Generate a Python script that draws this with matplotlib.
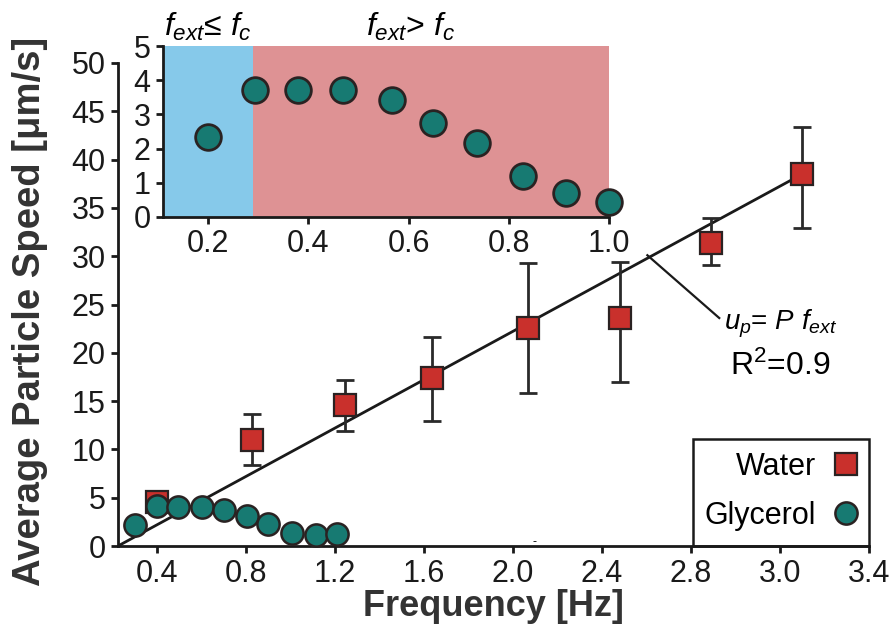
import matplotlib
matplotlib.use('Agg')
import matplotlib.pyplot as plt
from matplotlib.patches import Rectangle

plt.rcParams['font.family'] = ['Liberation Sans', 'DejaVu Sans']
plt.rcParams['mathtext.fontset'] = 'custom'
plt.rcParams['mathtext.rm'] = 'Liberation Sans'
plt.rcParams['mathtext.it'] = 'Liberation Sans:italic'
plt.rcParams['mathtext.bf'] = 'Liberation Sans:bold'

# ---------------- data ----------------
water_x = [0.40, 0.826, 1.244, 1.635, 2.066, 2.483, 2.89, 3.30]
water_y = [4.6, 11.0, 14.6, 17.4, 22.6, 23.6, 31.4, 38.5]
water_err_lo = [0.0, 2.6, 2.7, 4.5, 6.8, 6.6, 2.3, 5.6]
water_err_hi = [0.0, 2.7, 2.6, 4.2, 6.7, 5.8, 2.6, 4.9]

gly_x = [0.301, 0.40, 0.494, 0.602, 0.70, 0.804, 0.898, 1.006, 1.114, 1.208]
gly_y = [2.17, 4.14, 4.04, 4.04, 3.73, 3.10, 2.28, 1.35, 1.14, 1.24]

fit_x = [0.225, 3.30]
fit_y = [0.0, 38.5]
leader_x = [2.604, 2.927]
leader_y = [30.1, 23.6]

inset_x = [0.20, 0.293, 0.38, 0.47, 0.567, 0.648, 0.736, 0.828, 0.914, 1.0]
inset_y = [2.35, 3.72, 3.72, 3.72, 3.43, 2.74, 2.15, 1.21, 0.70, 0.45]
inset_fc = 0.29

main_xticks = [0.4, 0.8, 1.2, 1.6, 2.0, 2.4, 2.8, 3.2, 3.6]
main_xticklabels = ['0.4', '0.8', '1.2', '1.6', '2.0', '2.4', '2.8', '3.0', '3.4']
main_yticks = [0, 5, 10, 15, 20, 25, 30, 35, 40, 45, 50]
inset_xticks = [0.2, 0.4, 0.6, 0.8, 1.0]
inset_xticklabels = ['0.2', '0.4', '0.6', '0.8', '1.0']
inset_yticks = [0, 1, 2, 3, 4, 5]

# ---------------- style ----------------
RED = '#C9302C'
TEAL = '#177A72'
EDGE = '#2a2222'
BLUE = '#86C9EA'
PINK = '#DE9294'
TICK_FS = 22

W, H = 893, 643
fig = plt.figure(figsize=(W / 100, H / 100), dpi=100)
ax = fig.add_axes([118 / W, 1 - 546 / H, (869 - 118) / W, (546 - 63) / H])

ax.plot(fit_x, fit_y, color='#1a1a1a', lw=2.0, zorder=2)
ax.plot(leader_x, leader_y, color='#1a1a1a', lw=1.6, zorder=2)

ax.errorbar(water_x, water_y, yerr=[water_err_lo, water_err_hi], fmt='none',
            ecolor='#2a2a2a', elinewidth=2.0, capsize=6.5, capthick=2.0, zorder=3)
hw, = ax.plot(water_x, water_y, linestyle='none', marker='s', markersize=15.5,
              markerfacecolor=RED, markeredgecolor=EDGE, markeredgewidth=1.6,
              zorder=4, clip_on=False, label='Water')
hg, = ax.plot(gly_x, gly_y, linestyle='none', marker='o', markersize=16,
              markerfacecolor=TEAL, markeredgecolor=EDGE, markeredgewidth=1.8,
              zorder=5, clip_on=False, label='Glycerol')

ax.set_xlim(0.225, 3.6)
ax.set_ylim(0, 50)
ax.set_xticks(main_xticks)
ax.set_xticklabels(main_xticklabels)
ax.set_yticks(main_yticks)
for s in ['top', 'right']:
    ax.spines[s].set_visible(False)
for s in ['left', 'bottom']:
    ax.spines[s].set_linewidth(2.0)
    ax.spines[s].set_color('#1a1a1a')
ax.tick_params(direction='out', length=5, width=2.0, labelsize=TICK_FS, pad=4,
               colors='#1a1a1a')
ax.set_xlabel('Frequency [Hz]', fontsize=26, fontweight='bold', color='#333333')
ax.set_ylabel('Average Particle Speed [μm/s]', fontsize=27.5, fontweight='bold',
              color='#333333')
ax.xaxis.set_label_coords(0.5, -0.088)
ax.yaxis.set_label_coords(-0.093, 0.485)

ax.text(2.95, 23.0, r'$u_p$= $P$ $f_{ext}$', fontsize=20, ha='left', va='center')
ax.text(2.975, 18.6, r'R$^2$=0.9', fontsize=23, ha='left', va='center')
ax.text(2.097, 0.4, '-', fontsize=9, ha='center', va='center')

# legend box
ax.add_patch(Rectangle((0.766, 0.0), 0.234, 0.2215, transform=ax.transAxes,
                       fill=False, lw=1.8, edgecolor='#1a1a1a', clip_on=False,
                       zorder=6))
leg = ax.legend(handles=[hw, hg], loc='upper right', bbox_to_anchor=(0.99, 0.195),
                frameon=False, markerfirst=False, fontsize=22, handlelength=1.0,
                handletextpad=0.5, labelspacing=0.62, borderpad=0.0,
                borderaxespad=0.0)

# ---------------- inset ----------------
ins = fig.add_axes([163 / W, 1 - 217 / H, (609 - 163) / W, (217 - 46) / H])
ins.axvspan(0.11, inset_fc, color=BLUE, lw=0, zorder=0)
ins.axvspan(inset_fc, 1.0, color=PINK, lw=0, zorder=0)
ins.plot(inset_x, inset_y, linestyle='none', marker='o', markersize=18.5,
         markerfacecolor=TEAL, markeredgecolor=EDGE, markeredgewidth=2.0,
         zorder=5, clip_on=False)
ins.set_xlim(0.11, 1.0)
ins.set_ylim(0, 5)
ins.set_xticks(inset_xticks)
ins.set_xticklabels(inset_xticklabels)
ins.set_yticks(inset_yticks)
for s in ['top', 'right']:
    ins.spines[s].set_visible(False)
for s in ['left', 'bottom']:
    ins.spines[s].set_linewidth(2.0)
    ins.spines[s].set_color('#1a1a1a')
ins.tick_params(direction='out', length=5, width=2.0, labelsize=TICK_FS, pad=4,
                colors='#1a1a1a')
ins.set_facecolor('white')

ins.text(0.20, 1.02, r'$f_{ext}$≤ $f_c$', transform=ins.get_xaxis_transform(),
         fontsize=23, ha='center', va='bottom')
ins.text(0.603, 1.02, r'$f_{ext}$> $f_c$', transform=ins.get_xaxis_transform(),
         fontsize=23, ha='center', va='bottom')

fig.savefig('out.png', dpi=100)
